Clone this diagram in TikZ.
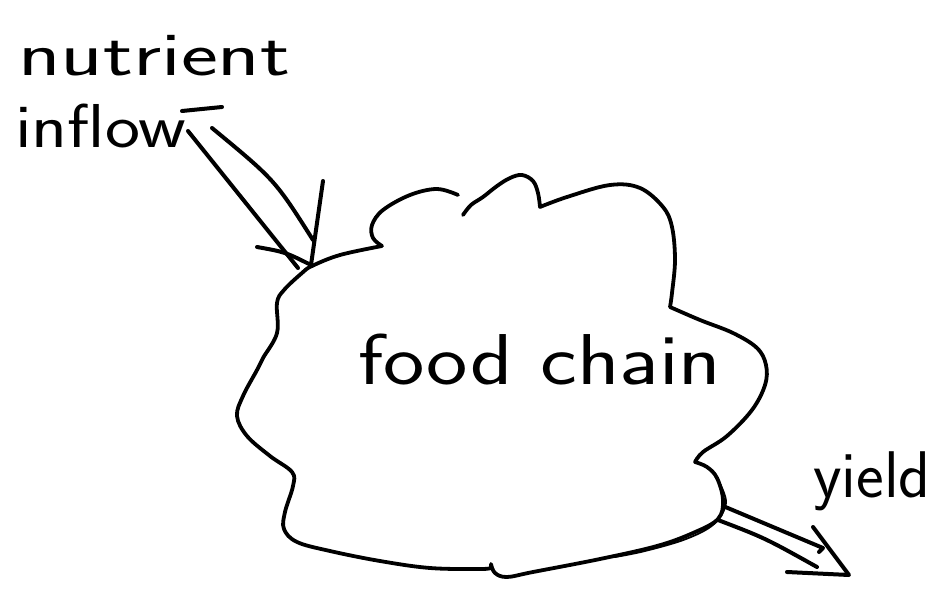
\documentclass[tikz,border=0pt]{standalone}
\usepackage{fontspec}
\usetikzlibrary{positioning}

\begin{document}
\begin{tikzpicture}[
    x=1pt, y=-1pt,
    outline/.style={black, line width=3.8pt, line cap=round, line join=round},
    stroke/.style={black, line width=4pt, line cap=round, line join=round},
    hand_label/.style={font=\sffamily\fontsize{62}{62}\selectfont, inner sep=0pt, anchor=base west}
]

\useasboundingbox[fill=white] (0,0) rectangle (938,589);

% ==========================
% ETIQUETAS
% ==========================
\node[hand_label] (nutrient) at (18,75) {\scalebox{1.42}[1]{nutrient}};
\node[hand_label] (inflow) at (15,147) {\scalebox{1.2}[1]{inflow}};
\node[hand_label, font=\sffamily\fontsize{72}{72}\selectfont] (chain) at (358,384) {\scalebox{1.22}[1]{food chain}};
\node[hand_label, font=\sffamily\fontsize{66}{66}\selectfont] (yield) at (813,497) {yield};

% ==========================
% CONTORNO (nube)
% ==========================
\draw[outline]
    plot[smooth, tension=0.6] coordinates {(463,215) (471,205) (483,197) (497,186) (510,178) (522,175) (533,181) (538,193) (540,207)}
 -- plot[smooth, tension=0.6] coordinates {(540,207) (567,197) (610,185) (640,188) (663,207) (672,227) (675,260) (672,293) (670,307)}
 -- plot[smooth, tension=0.6] coordinates {(670,307) (700,320) (733,333) (757,348) (766,365) (765,385) (752,410) (727,436) (703,452) (695,462)}
 -- plot[smooth, tension=0.6] coordinates {(695,462) (707,467) (717,478) (723,500) (718,519) (693,533) (657,546) (600,559) (533,572) (507,577) (495,573) (491,564)}
 -- plot[smooth, tension=0.6] coordinates {(491,568) (480,569) (430,568) (380,561) (330,551) (297,542) (284,529) (285,512) (293,486) (292,472) (270,456) (247,436) (237,416) (243,396) (257,370) (263,358) (277,333) (277,303) (284,290) (302,273) (312,266) (340,255) (382,246)}
 -- plot[smooth, tension=0.6] coordinates {(382,246) (373,238) (372,225) (383,210) (410,195) (437,189) (458,195)};

% trazo repetido junto a la salida
\draw[outline, line width=1.8pt]
    plot[smooth, tension=0.6] coordinates {(719,482) (726,503) (714,524) (686,539) (645,551) (615,557)};

% ==========================
% FLECHA DE ENTRADA
% ==========================
\coordinate (in-l0) at (188,131);
\coordinate (in-l1) at (298,268);
\coordinate (in-r0) at (212,128);
\coordinate (in-r1) at (313,240);
\coordinate (in-tip) at (311,265);
\coordinate (in-bl) at (257,247);
\coordinate (in-br) at (323,181);
\coordinate (in-tail) at (222,107);

\draw[stroke] (182,111) -- (in-tail);
\draw[stroke] (in-l0) -- (in-l1);
\draw[stroke] (in-r0) .. controls (275,180) .. (in-r1);
\draw[stroke] (in-bl) .. controls (285,252) .. (in-tip) -- (in-br);

% ==========================
% FLECHA DE SALIDA
% ==========================
\coordinate (out-u0) at (723,506);
\coordinate (out-u1) at (823,548);
\coordinate (out-l0) at (718,520);
\coordinate (out-l1) at (817,567);
\coordinate (out-tip) at (849,575);
\coordinate (out-bu) at (813,527);
\coordinate (out-bl) at (787,572);

\draw[stroke] (out-u0) -- (out-u1) -- (819,552);
\draw[stroke] (out-l0) .. controls (765,538) .. (out-l1);
\draw[stroke] (out-bu) -- (out-tip) -- (out-bl);

\end{tikzpicture}
\end{document}
